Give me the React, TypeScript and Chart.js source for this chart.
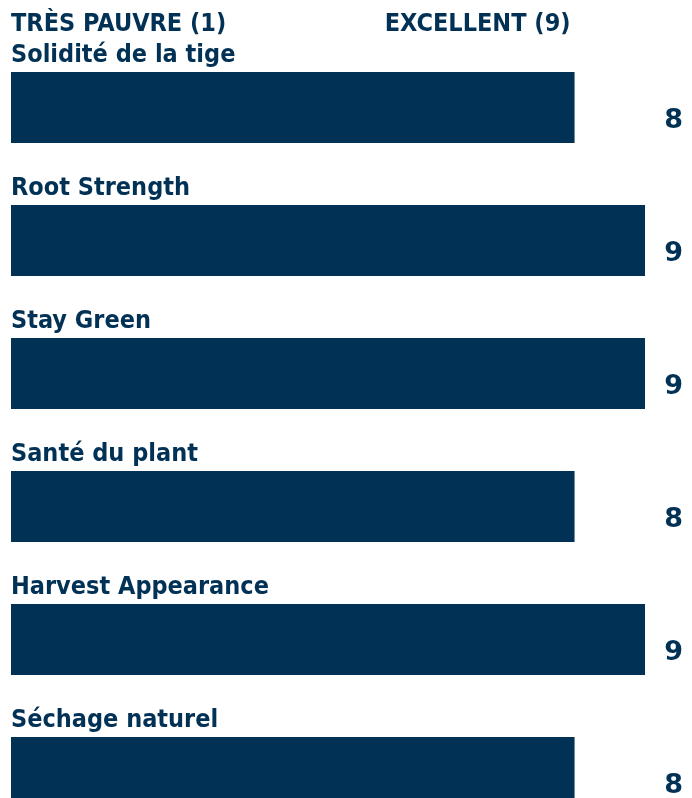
import React, { useEffect, useRef } from "react";
import { Chart, registerables } from "chart.js";

Chart.register(...registerables);

const categories = [
  "Solidité de la tige",
  "Root Strength",
  "Stay Green",
  "Santé du plant",
  "Harvest Appearance",
  "Séchage naturel",
];
const scores = [8, 9, 9, 8, 9, 8];
const headerLow = "TRÈS PAUVRE (1)";
const headerHigh = "EXCELLENT (9)";
const scaleMin = 0;
const scaleMax = 9;

const NAVY = "#023156";
const FONT = "'DejaVu Sans Condensed', 'DejaVu Sans', sans-serif";
const VALUE_FONT = "'DejaVu Sans', sans-serif";

export default function App() {
  const ref = useRef<HTMLCanvasElement | null>(null);

  useEffect(() => {
    document.documentElement.style.overflow = "hidden";
    document.body.style.overflow = "hidden";
    const canvas = ref.current;
    if (!canvas) return;

    const textPlugin = {
      id: "textPlugin",
      afterDatasetsDraw(chart: any) {
        const { ctx, chartArea } = chart;
        const meta = chart.getDatasetMeta(0);
        const xs = chart.scales.x;
        ctx.save();
        ctx.fillStyle = NAVY;
        ctx.textBaseline = "alphabetic";
        try {
          (ctx as any).fontStretch = "condensed";
        } catch (e) {}
        ctx.font = `bold 25px ${FONT}`;
        ctx.textAlign = "left";
        ctx.fillText(headerLow, xs.getPixelForValue(scaleMin), 23);
        ctx.textAlign = "right";
        ctx.fillText(headerHigh, xs.getPixelForValue(8) - 4, 23);
        meta.data.forEach((bar: any, i: number) => {
          const top = bar.y - bar.height / 2;
          try {
            (ctx as any).fontStretch = "condensed";
          } catch (e) {}
          ctx.font = `bold 25px ${FONT}`;
          ctx.textAlign = "left";
          ctx.fillText(categories[i], chartArea.left, top - 10);
          try {
            (ctx as any).fontStretch = "normal";
          } catch (e) {}
          ctx.font = `bold 27px ${VALUE_FONT}`;
          ctx.textAlign = "right";
          ctx.fillText(String(scores[i]), chart.width - 1, bar.y + 20);
        });
        ctx.restore();
      },
    };

    const chart = new Chart(canvas, {
      type: "bar",
      data: {
        labels: categories,
        datasets: [
          {
            data: scores,
            backgroundColor: NAVY,
            borderWidth: 0,
            barPercentage: 0.534,
            categoryPercentage: 1,
          },
        ],
      },
      options: {
        indexAxis: "y",
        animation: false,
        responsive: true,
        maintainAspectRatio: false,
        layout: { padding: { top: 33, left: 3, right: 39, bottom: 0 } },
        plugins: {
          legend: { display: false },
          tooltip: { enabled: false },
        },
        scales: {
          x: { display: false, min: scaleMin, max: scaleMax },
          y: { display: false },
        },
      },
      plugins: [textPlugin],
    });
    return () => chart.destroy();
  }, []);

  return (
    <div style={{ width: 676, height: 831, position: "relative" }}>
      <canvas ref={ref} />
    </div>
  );
}
